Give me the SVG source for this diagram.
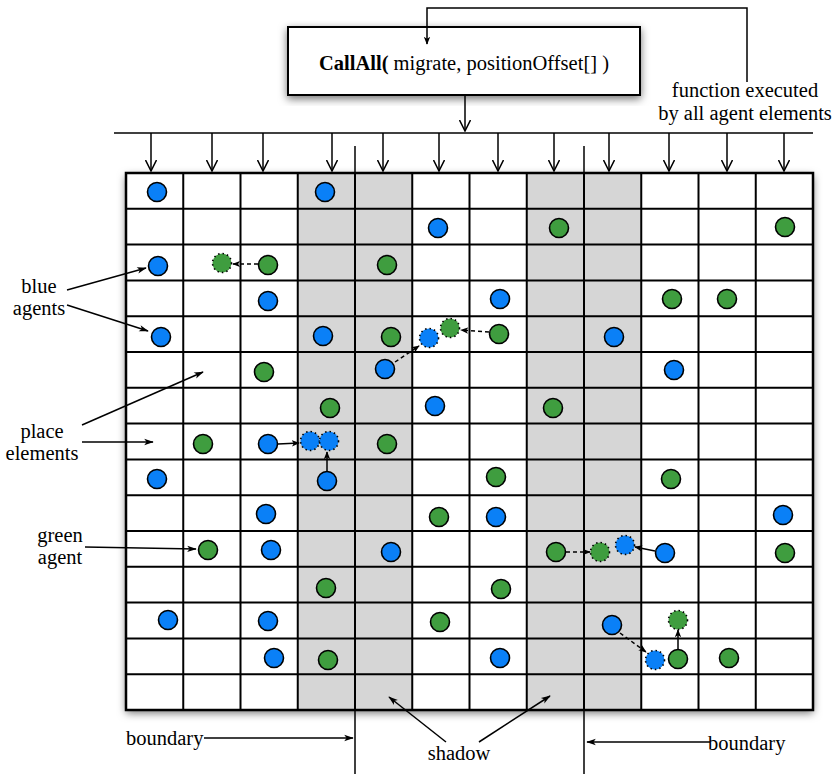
<svg xmlns="http://www.w3.org/2000/svg" width="836" height="774" viewBox="0 0 836 774">
<style>
text{font-family:"Liberation Serif","Times New Roman",serif;font-size:20.5px;fill:#000}
.ln{stroke:#000;stroke-width:1.5;fill:none}
.gl{stroke:#000;stroke-width:2;fill:none}
.b{fill:#0a80f7;stroke:#000;stroke-width:1.6}
.g{fill:#3f9d3f;stroke:#000;stroke-width:1.6}
.bd{fill:#0a80f7;stroke:#000;stroke-width:1.6;stroke-dasharray:1.5 3}
.gd{fill:#3f9d3f;stroke:#000;stroke-width:1.6;stroke-dasharray:1.5 3}
.ma{stroke:#000;stroke-width:1.5;fill:none;marker-end:url(#fa)}
.md{stroke:#000;stroke-width:1.5;fill:none;stroke-dasharray:4 3;marker-end:url(#fa)}
.la{stroke:#000;stroke-width:1.5;fill:none;marker-end:url(#fl)}
.va{stroke:#000;stroke-width:1.5;fill:none;marker-end:url(#va)}
</style>
<defs>
<filter id="sh" x="-10%" y="-10%" width="120%" height="125%">
<feDropShadow dx="0" dy="3" stdDeviation="4" flood-color="#000" flood-opacity="0.55"/>
</filter>
<marker id="fa" viewBox="0 0 10 10" refX="9" refY="5" markerWidth="8" markerHeight="8" orient="auto" markerUnits="userSpaceOnUse">
<path d="M0,1 L10,5 L0,9 L2.5,5 Z" fill="#000"/>
</marker>
<marker id="fl" viewBox="0 0 12 10" refX="11" refY="5" markerWidth="11" markerHeight="8" orient="auto" markerUnits="userSpaceOnUse">
<path d="M0,1 L12,5 L0,9 L3,5 Z" fill="#000"/>
</marker>
<marker id="va" viewBox="0 0 12 12" refX="11" refY="6" markerWidth="12" markerHeight="12" orient="auto" markerUnits="userSpaceOnUse">
<path d="M0,0.5 L11,6 L0,11.5" fill="none" stroke="#000" stroke-width="1.5"/>
</marker>
</defs>

<g id="callall-box">
<rect x="288" y="27" width="352" height="68" fill="#fff" stroke="#000" stroke-width="2" filter="url(#sh)"/>
<text x="464" y="70" text-anchor="middle"><tspan font-weight="bold">CallAll(</tspan> migrate, positionOffset[] )</text>
</g>

<g id="grid">
<rect x="126" y="173" width="687" height="537" fill="#fff" filter="url(#sh)"/>
<rect x="297.75" y="173" width="114.5" height="537" fill="#d6d6d6"/>
<rect x="526.75" y="173" width="114.5" height="537" fill="#d6d6d6"/>
<path class="gl" d="M183.25,173V710M240.5,173V710M297.75,173V710M355,173V710M412.25,173V710M469.5,173V710M526.75,173V710M584,173V710M641.25,173V710M698.5,173V710M755.75,173V710"/>
<path class="gl" d="M126,208.8H813M126,244.6H813M126,280.4H813M126,316.2H813M126,352H813M126,387.8H813M126,423.6H813M126,459.4H813M126,495.2H813M126,531H813M126,566.8H813M126,602.6H813M126,638.4H813M126,674.2H813"/>
<rect x="126" y="173" width="687" height="537" fill="none" stroke="#000" stroke-width="2.5"/>
</g>

<g id="boundaries">
<line class="ln" x1="355" y1="146" x2="355" y2="774"/>
<line class="ln" x1="584" y1="146" x2="584" y2="774"/>
</g>

<g id="agents">
<circle class="b" cx="157" cy="192" r="9.5"/>
<circle class="b" cx="325" cy="192" r="9.5"/>
<circle class="b" cx="438" cy="228" r="9.5"/>
<circle class="g" cx="559" cy="228" r="9.5"/>
<circle class="g" cx="785" cy="227" r="9.5"/>
<circle class="b" cx="158" cy="266" r="9.5"/>
<circle class="gd" cx="222" cy="263" r="9.5"/>
<circle class="g" cx="268" cy="265" r="9.5"/>
<circle class="g" cx="387" cy="265" r="9.5"/>
<circle class="b" cx="268" cy="301" r="9.5"/>
<circle class="b" cx="500" cy="299" r="9.5"/>
<circle class="g" cx="672" cy="299" r="9.5"/>
<circle class="g" cx="727" cy="299" r="9.5"/>
<circle class="b" cx="161" cy="337" r="9.5"/>
<circle class="b" cx="323" cy="336" r="9.5"/>
<circle class="g" cx="391" cy="337" r="9.5"/>
<circle class="bd" cx="429" cy="338" r="9.5"/>
<circle class="gd" cx="450" cy="328" r="9.5"/>
<circle class="g" cx="499" cy="334" r="9.5"/>
<circle class="b" cx="614" cy="337" r="9.5"/>
<circle class="g" cx="264" cy="372" r="9.5"/>
<circle class="b" cx="385" cy="369" r="9.5"/>
<circle class="b" cx="674" cy="370" r="9.5"/>
<circle class="g" cx="330" cy="408" r="9.5"/>
<circle class="b" cx="435" cy="406" r="9.5"/>
<circle class="g" cx="553" cy="408" r="9.5"/>
<circle class="g" cx="203" cy="444" r="9.5"/>
<circle class="b" cx="268" cy="444" r="9.5"/>
<circle class="bd" cx="310" cy="441" r="9.5"/>
<circle class="bd" cx="329" cy="441" r="9.5"/>
<circle class="g" cx="387" cy="444" r="9.5"/>
<circle class="b" cx="157" cy="479" r="9.5"/>
<circle class="b" cx="327" cy="481" r="9.5"/>
<circle class="g" cx="496" cy="477" r="9.5"/>
<circle class="g" cx="671" cy="479" r="9.5"/>
<circle class="b" cx="266" cy="514" r="9.5"/>
<circle class="g" cx="439" cy="517" r="9.5"/>
<circle class="b" cx="496" cy="517" r="9.5"/>
<circle class="b" cx="783" cy="515" r="9.5"/>
<circle class="g" cx="208" cy="550" r="9.5"/>
<circle class="b" cx="271" cy="550" r="9.5"/>
<circle class="b" cx="391" cy="552" r="9.5"/>
<circle class="g" cx="556" cy="552" r="9.5"/>
<circle class="gd" cx="600" cy="552" r="9.5"/>
<circle class="bd" cx="625" cy="545" r="9.5"/>
<circle class="b" cx="665" cy="553" r="9.5"/>
<circle class="g" cx="785" cy="553" r="9.5"/>
<circle class="g" cx="326" cy="588" r="9.5"/>
<circle class="g" cx="501" cy="589" r="9.5"/>
<circle class="b" cx="168" cy="620" r="9.5"/>
<circle class="b" cx="268" cy="621" r="9.5"/>
<circle class="g" cx="440" cy="622" r="9.5"/>
<circle class="b" cx="612" cy="625" r="9.5"/>
<circle class="gd" cx="678" cy="620" r="9.5"/>
<circle class="b" cx="274" cy="658" r="9.5"/>
<circle class="g" cx="328" cy="660" r="9.5"/>
<circle class="b" cx="500" cy="658" r="9.5"/>
<circle class="bd" cx="655" cy="660" r="9.5"/>
<circle class="g" cx="678" cy="659" r="9.5"/>
<circle class="g" cx="729" cy="658" r="9.5"/>
</g>

<g id="connectors">
<polyline class="ln" points="747,82 747,8 427,8 427,44" marker-end="url(#fa)"/>
<line class="va" x1="465" y1="95" x2="465" y2="131"/>
<line class="ln" x1="114" y1="133" x2="813" y2="133"/>
<line class="va" x1="151" y1="133" x2="151" y2="171"/>
<line class="va" x1="212" y1="133" x2="212" y2="171"/>
<line class="va" x1="263" y1="133" x2="263" y2="171"/>
<line class="va" x1="332" y1="133" x2="332" y2="171"/>
<line class="va" x1="383" y1="133" x2="383" y2="171"/>
<line class="va" x1="439" y1="133" x2="439" y2="171"/>
<line class="va" x1="498" y1="133" x2="498" y2="171"/>
<line class="va" x1="554" y1="133" x2="554" y2="171"/>
<line class="va" x1="609" y1="133" x2="609" y2="171"/>
<line class="va" x1="669" y1="133" x2="669" y2="171"/>
<line class="va" x1="727" y1="133" x2="727" y2="171"/>
<line class="va" x1="784" y1="133" x2="784" y2="171"/>
<line class="md" x1="258" y1="264" x2="233" y2="264"/>
<line class="md" x1="489" y1="332" x2="461" y2="330"/>
<line class="md" x1="395" y1="362" x2="419" y2="346"/>
<line class="ma" x1="278" y1="444" x2="299" y2="443"/>
<line class="ma" x1="327" y1="471" x2="327" y2="452"/>
<line class="md" x1="566" y1="552" x2="590" y2="552"/>
<line class="ma" x1="655" y1="551" x2="635" y2="547"/>
<line class="md" x1="620" y1="633" x2="646" y2="652"/>
<line class="ma" x1="678" y1="649" x2="678" y2="630"/>
<line class="la" x1="67" y1="290" x2="146" y2="268"/>
<line class="la" x1="67" y1="305" x2="148" y2="331"/>
<line class="la" x1="82" y1="425" x2="203" y2="372"/>
<line class="la" x1="82" y1="442" x2="153" y2="442"/>
<line class="la" x1="85" y1="547" x2="196" y2="549"/>
<line class="la" x1="204" y1="738" x2="353" y2="738"/>
<line class="la" x1="710" y1="742" x2="587" y2="742"/>
<line class="la" x1="446" y1="742" x2="389" y2="697"/>
<line class="la" x1="479" y1="742" x2="550" y2="696"/>
</g>

<g id="labels">
<text x="745" y="97" text-anchor="middle">function executed</text>
<text x="745" y="120" text-anchor="middle">by all agent elements</text>
<text x="39" y="293" text-anchor="middle">blue</text>
<text x="39" y="315" text-anchor="middle">agents</text>
<text x="42" y="438" text-anchor="middle">place</text>
<text x="42" y="460" text-anchor="middle">elements</text>
<text x="60" y="542" text-anchor="middle">green</text>
<text x="60" y="564" text-anchor="middle">agent</text>
<text x="126" y="745">boundary</text>
<text x="459" y="760" text-anchor="middle">shadow</text>
<text x="708" y="750">boundary</text>
</g>
</svg>
